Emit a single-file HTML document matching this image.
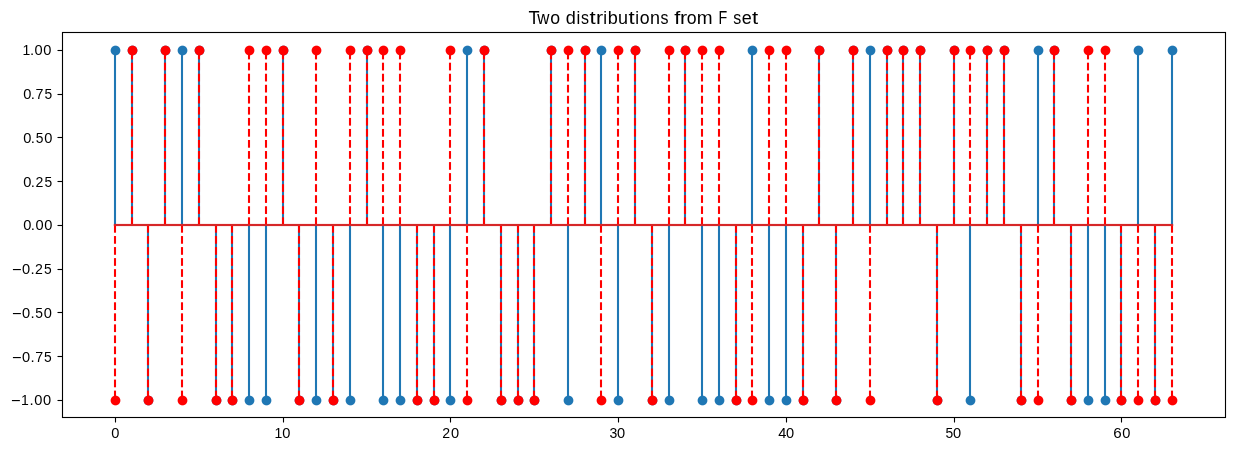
<!DOCTYPE html>
<html><head><meta charset="utf-8"><title>Two distributions from F set</title>
<style>html,body{margin:0;padding:0;background:#fff}body{width:1234px;height:451px;overflow:hidden}svg{display:block}text{font-family:"Liberation Sans",sans-serif;fill:#000}.t{font-size:14.2px}.h{font-size:17.63px}</style></head><body>
<svg style="will-change:transform" width="1234" height="451" viewBox="0 0 1234 451">
<rect x="0" y="0" width="1234" height="451" fill="#ffffff"/>
<defs><g id="m"><rect x="3" y="0" width="1" height="1" fill-opacity=".013"/><rect x="4" y="0" width="1" height="1" fill-opacity=".254"/><rect x="5" y="0" width="1" height="1" fill-opacity=".353"/><rect x="6" y="0" width="1" height="1" fill-opacity=".254"/><rect x="7" y="0" width="1" height="1" fill-opacity=".013"/><rect x="2" y="1" width="1" height="1" fill-opacity=".321"/><rect x="3" y="1" width="1" height="1" fill-opacity=".888"/><rect x="4" y="1" width="3" height="1"/><rect x="7" y="1" width="1" height="1" fill-opacity=".888"/><rect x="8" y="1" width="1" height="1" fill-opacity=".321"/><rect x="1" y="2" width="1" height="1" fill-opacity=".321"/><rect x="2" y="2" width="7" height="1"/><rect x="9" y="2" width="1" height="1" fill-opacity=".321"/><rect x="0" y="3" width="1" height="1" fill-opacity=".013"/><rect x="1" y="3" width="1" height="1" fill-opacity=".888"/><rect x="2" y="3" width="7" height="1"/><rect x="9" y="3" width="1" height="1" fill-opacity=".888"/><rect x="10" y="3" width="1" height="1" fill-opacity=".013"/><rect x="0" y="4" width="1" height="1" fill-opacity=".254"/><rect x="1" y="4" width="9" height="1"/><rect x="10" y="4" width="1" height="1" fill-opacity=".254"/><rect x="0" y="5" width="1" height="1" fill-opacity=".353"/><rect x="1" y="5" width="9" height="1"/><rect x="10" y="5" width="1" height="1" fill-opacity=".353"/><rect x="0" y="6" width="1" height="1" fill-opacity=".254"/><rect x="1" y="6" width="9" height="1"/><rect x="10" y="6" width="1" height="1" fill-opacity=".254"/><rect x="0" y="7" width="1" height="1" fill-opacity=".013"/><rect x="1" y="7" width="1" height="1" fill-opacity=".888"/><rect x="2" y="7" width="7" height="1"/><rect x="9" y="7" width="1" height="1" fill-opacity=".888"/><rect x="10" y="7" width="1" height="1" fill-opacity=".013"/><rect x="1" y="8" width="1" height="1" fill-opacity=".321"/><rect x="2" y="8" width="7" height="1"/><rect x="9" y="8" width="1" height="1" fill-opacity=".321"/><rect x="2" y="9" width="1" height="1" fill-opacity=".321"/><rect x="3" y="9" width="1" height="1" fill-opacity=".888"/><rect x="4" y="9" width="3" height="1"/><rect x="7" y="9" width="1" height="1" fill-opacity=".888"/><rect x="8" y="9" width="1" height="1" fill-opacity=".321"/><rect x="3" y="10" width="1" height="1" fill-opacity=".013"/><rect x="4" y="10" width="1" height="1" fill-opacity=".254"/><rect x="5" y="10" width="1" height="1" fill-opacity=".353"/><rect x="6" y="10" width="1" height="1" fill-opacity=".254"/><rect x="7" y="10" width="1" height="1" fill-opacity=".013"/></g></defs>
<text class="h" y="24.00"><tspan x="528.54" textLength="11.10" lengthAdjust="spacingAndGlyphs">T</tspan><tspan x="537.22" textLength="12.17" lengthAdjust="spacingAndGlyphs">w</tspan><tspan x="550.30" textLength="9.85" lengthAdjust="spacingAndGlyphs">o</tspan> <tspan x="565.66" textLength="10.07" lengthAdjust="spacingAndGlyphs">d</tspan><tspan x="576.43" textLength="3.79" lengthAdjust="spacingAndGlyphs">i</tspan><tspan x="581.08" textLength="7.99" lengthAdjust="spacingAndGlyphs">s</tspan><tspan x="589.49" textLength="6.19" lengthAdjust="spacingAndGlyphs">t</tspan><tspan x="595.97" textLength="7.11" lengthAdjust="spacingAndGlyphs">r</tspan><tspan x="603.18" textLength="3.79" lengthAdjust="spacingAndGlyphs">i</tspan><tspan x="607.72" textLength="10.08" lengthAdjust="spacingAndGlyphs">b</tspan><tspan x="618.12" textLength="9.99" lengthAdjust="spacingAndGlyphs">u</tspan><tspan x="628.49" textLength="6.19" lengthAdjust="spacingAndGlyphs">t</tspan><tspan x="635.31" textLength="3.79" lengthAdjust="spacingAndGlyphs">i</tspan><tspan x="639.68" textLength="9.85" lengthAdjust="spacingAndGlyphs">o</tspan><tspan x="649.95" textLength="9.99" lengthAdjust="spacingAndGlyphs">n</tspan><tspan x="660.58" textLength="7.99" lengthAdjust="spacingAndGlyphs">s</tspan> <tspan x="674.20" textLength="6.08" lengthAdjust="spacingAndGlyphs">f</tspan><tspan x="680.10" textLength="7.11" lengthAdjust="spacingAndGlyphs">r</tspan><tspan x="686.68" textLength="9.85" lengthAdjust="spacingAndGlyphs">o</tspan><tspan x="696.88" textLength="15.82" lengthAdjust="spacingAndGlyphs">m</tspan> <tspan x="718.59" textLength="8.73" lengthAdjust="spacingAndGlyphs">F</tspan> <tspan x="733.33" textLength="7.99" lengthAdjust="spacingAndGlyphs">s</tspan><tspan x="741.78" textLength="10.01" lengthAdjust="spacingAndGlyphs">e</tspan><tspan x="751.99" textLength="6.19" lengthAdjust="spacingAndGlyphs">t</tspan></text>
<g fill="#1f77b4">
<rect x="113.9583" y="50" width="2.0833" height="175"/>
<rect x="130.9583" y="50" width="2.0833" height="175"/>
<rect x="146.9583" y="225" width="2.0833" height="175"/>
<rect x="163.9583" y="50" width="2.0833" height="175"/>
<rect x="180.9583" y="50" width="2.0833" height="175"/>
<rect x="197.9583" y="50" width="2.0833" height="175"/>
<rect x="214.9583" y="225" width="2.0833" height="175"/>
<rect x="230.9583" y="225" width="2.0833" height="175"/>
<rect x="247.9583" y="225" width="2.0833" height="175"/>
<rect x="264.9583" y="225" width="2.0833" height="175"/>
<rect x="281.9583" y="50" width="2.0833" height="175"/>
<rect x="297.9583" y="225" width="2.0833" height="175"/>
<rect x="314.9583" y="225" width="2.0833" height="175"/>
<rect x="331.9583" y="225" width="2.0833" height="175"/>
<rect x="348.9583" y="225" width="2.0833" height="175"/>
<rect x="365.9583" y="50" width="2.0833" height="175"/>
<rect x="381.9583" y="225" width="2.0833" height="175"/>
<rect x="398.9583" y="225" width="2.0833" height="175"/>
<rect x="415.9583" y="225" width="2.0833" height="175"/>
<rect x="432.9583" y="225" width="2.0833" height="175"/>
<rect x="448.9583" y="225" width="2.0833" height="175"/>
<rect x="465.9583" y="50" width="2.0833" height="175"/>
<rect x="482.9583" y="50" width="2.0833" height="175"/>
<rect x="499.9583" y="225" width="2.0833" height="175"/>
<rect x="516.9583" y="225" width="2.0833" height="175"/>
<rect x="532.9583" y="225" width="2.0833" height="175"/>
<rect x="549.9583" y="50" width="2.0833" height="175"/>
<rect x="566.9583" y="225" width="2.0833" height="175"/>
<rect x="583.9583" y="50" width="2.0833" height="175"/>
<rect x="599.9583" y="50" width="2.0833" height="175"/>
<rect x="616.9583" y="225" width="2.0833" height="175"/>
<rect x="633.9583" y="50" width="2.0833" height="175"/>
<rect x="650.9583" y="225" width="2.0833" height="175"/>
<rect x="667.9583" y="225" width="2.0833" height="175"/>
<rect x="683.9583" y="50" width="2.0833" height="175"/>
<rect x="700.9583" y="225" width="2.0833" height="175"/>
<rect x="717.9583" y="225" width="2.0833" height="175"/>
<rect x="734.9583" y="225" width="2.0833" height="175"/>
<rect x="750.9583" y="50" width="2.0833" height="175"/>
<rect x="767.9583" y="225" width="2.0833" height="175"/>
<rect x="784.9583" y="225" width="2.0833" height="175"/>
<rect x="801.9583" y="225" width="2.0833" height="175"/>
<rect x="817.9583" y="50" width="2.0833" height="175"/>
<rect x="834.9583" y="225" width="2.0833" height="175"/>
<rect x="851.9583" y="50" width="2.0833" height="175"/>
<rect x="868.9583" y="50" width="2.0833" height="175"/>
<rect x="885.9583" y="50" width="2.0833" height="175"/>
<rect x="901.9583" y="50" width="2.0833" height="175"/>
<rect x="918.9583" y="50" width="2.0833" height="175"/>
<rect x="935.9583" y="225" width="2.0833" height="175"/>
<rect x="952.9583" y="50" width="2.0833" height="175"/>
<rect x="968.9583" y="225" width="2.0833" height="175"/>
<rect x="985.9583" y="50" width="2.0833" height="175"/>
<rect x="1002.9583" y="50" width="2.0833" height="175"/>
<rect x="1019.9583" y="225" width="2.0833" height="175"/>
<rect x="1036.9584" y="50" width="2.0833" height="175"/>
<rect x="1052.9584" y="50" width="2.0833" height="175"/>
<rect x="1069.9584" y="225" width="2.0833" height="175"/>
<rect x="1086.9584" y="225" width="2.0833" height="175"/>
<rect x="1103.9584" y="225" width="2.0833" height="175"/>
<rect x="1119.9584" y="225" width="2.0833" height="175"/>
<rect x="1136.9584" y="50" width="2.0833" height="175"/>
<rect x="1153.9584" y="225" width="2.0833" height="175"/>
<rect x="1170.9584" y="50" width="2.0833" height="175"/>
</g>
<g fill="#1f77b4">
<use href="#m" x="110" y="45"/>
<use href="#m" x="127" y="45"/>
<use href="#m" x="143" y="395"/>
<use href="#m" x="160" y="45"/>
<use href="#m" x="177" y="45"/>
<use href="#m" x="194" y="45"/>
<use href="#m" x="211" y="395"/>
<use href="#m" x="227" y="395"/>
<use href="#m" x="244" y="395"/>
<use href="#m" x="261" y="395"/>
<use href="#m" x="278" y="45"/>
<use href="#m" x="294" y="395"/>
<use href="#m" x="311" y="395"/>
<use href="#m" x="328" y="395"/>
<use href="#m" x="345" y="395"/>
<use href="#m" x="362" y="45"/>
<use href="#m" x="378" y="395"/>
<use href="#m" x="395" y="395"/>
<use href="#m" x="412" y="395"/>
<use href="#m" x="429" y="395"/>
<use href="#m" x="445" y="395"/>
<use href="#m" x="462" y="45"/>
<use href="#m" x="479" y="45"/>
<use href="#m" x="496" y="395"/>
<use href="#m" x="513" y="395"/>
<use href="#m" x="529" y="395"/>
<use href="#m" x="546" y="45"/>
<use href="#m" x="563" y="395"/>
<use href="#m" x="580" y="45"/>
<use href="#m" x="596" y="45"/>
<use href="#m" x="613" y="395"/>
<use href="#m" x="630" y="45"/>
<use href="#m" x="647" y="395"/>
<use href="#m" x="664" y="395"/>
<use href="#m" x="680" y="45"/>
<use href="#m" x="697" y="395"/>
<use href="#m" x="714" y="395"/>
<use href="#m" x="731" y="395"/>
<use href="#m" x="747" y="45"/>
<use href="#m" x="764" y="395"/>
<use href="#m" x="781" y="395"/>
<use href="#m" x="798" y="395"/>
<use href="#m" x="814" y="45"/>
<use href="#m" x="831" y="395"/>
<use href="#m" x="848" y="45"/>
<use href="#m" x="865" y="45"/>
<use href="#m" x="882" y="45"/>
<use href="#m" x="898" y="45"/>
<use href="#m" x="915" y="45"/>
<use href="#m" x="932" y="395"/>
<use href="#m" x="949" y="45"/>
<use href="#m" x="965" y="395"/>
<use href="#m" x="982" y="45"/>
<use href="#m" x="999" y="45"/>
<use href="#m" x="1016" y="395"/>
<use href="#m" x="1033" y="45"/>
<use href="#m" x="1049" y="45"/>
<use href="#m" x="1066" y="395"/>
<use href="#m" x="1083" y="395"/>
<use href="#m" x="1100" y="395"/>
<use href="#m" x="1116" y="395"/>
<use href="#m" x="1133" y="45"/>
<use href="#m" x="1150" y="395"/>
<use href="#m" x="1167" y="45"/>
</g>
<rect x="113.9" y="223.96" width="1059.2" height="2.08" fill="#d62728"/>
<defs><g id="u" fill="#ff0000"><rect x="-1.04165" y="217.2917" width="2.0833" height="7.7083"/><rect x="-1.04165" y="206.2500" width="2.0833" height="7.7083"/><rect x="-1.04165" y="195.2083" width="2.0833" height="7.7083"/><rect x="-1.04165" y="184.1667" width="2.0833" height="7.7083"/><rect x="-1.04165" y="173.1250" width="2.0833" height="7.7083"/><rect x="-1.04165" y="162.0833" width="2.0833" height="7.7083"/><rect x="-1.04165" y="151.0417" width="2.0833" height="7.7083"/><rect x="-1.04165" y="140.0000" width="2.0833" height="7.7083"/><rect x="-1.04165" y="128.9583" width="2.0833" height="7.7083"/><rect x="-1.04165" y="117.9167" width="2.0833" height="7.7083"/><rect x="-1.04165" y="106.8750" width="2.0833" height="7.7083"/><rect x="-1.04165" y="95.8333" width="2.0833" height="7.7083"/><rect x="-1.04165" y="84.7917" width="2.0833" height="7.7083"/><rect x="-1.04165" y="73.7500" width="2.0833" height="7.7083"/><rect x="-1.04165" y="62.7083" width="2.0833" height="7.7083"/><rect x="-1.04165" y="51.6667" width="2.0833" height="7.7083"/></g>
<g id="d" fill="#ff0000"><rect x="-1.04165" y="225.0000" width="2.0833" height="7.7083"/><rect x="-1.04165" y="236.0417" width="2.0833" height="7.7083"/><rect x="-1.04165" y="247.0833" width="2.0833" height="7.7083"/><rect x="-1.04165" y="258.1250" width="2.0833" height="7.7083"/><rect x="-1.04165" y="269.1667" width="2.0833" height="7.7083"/><rect x="-1.04165" y="280.2083" width="2.0833" height="7.7083"/><rect x="-1.04165" y="291.2500" width="2.0833" height="7.7083"/><rect x="-1.04165" y="302.2917" width="2.0833" height="7.7083"/><rect x="-1.04165" y="313.3333" width="2.0833" height="7.7083"/><rect x="-1.04165" y="324.3750" width="2.0833" height="7.7083"/><rect x="-1.04165" y="335.4167" width="2.0833" height="7.7083"/><rect x="-1.04165" y="346.4583" width="2.0833" height="7.7083"/><rect x="-1.04165" y="357.5000" width="2.0833" height="7.7083"/><rect x="-1.04165" y="368.5417" width="2.0833" height="7.7083"/><rect x="-1.04165" y="379.5833" width="2.0833" height="7.7083"/><rect x="-1.04165" y="390.6250" width="2.0833" height="7.7083"/></g></defs>
<use href="#d" x="115"/>
<use href="#u" x="132"/>
<use href="#d" x="148"/>
<use href="#u" x="165"/>
<use href="#d" x="182"/>
<use href="#u" x="199"/>
<use href="#d" x="216"/>
<use href="#d" x="232"/>
<use href="#u" x="249"/>
<use href="#u" x="266"/>
<use href="#u" x="283"/>
<use href="#d" x="299"/>
<use href="#u" x="316"/>
<use href="#d" x="333"/>
<use href="#u" x="350"/>
<use href="#u" x="367"/>
<use href="#u" x="383"/>
<use href="#u" x="400"/>
<use href="#d" x="417"/>
<use href="#d" x="434"/>
<use href="#u" x="450"/>
<use href="#d" x="467"/>
<use href="#u" x="484"/>
<use href="#d" x="501"/>
<use href="#d" x="518"/>
<use href="#d" x="534"/>
<use href="#u" x="551"/>
<use href="#u" x="568"/>
<use href="#u" x="585"/>
<use href="#d" x="601"/>
<use href="#u" x="618"/>
<use href="#u" x="635"/>
<use href="#d" x="652"/>
<use href="#u" x="669"/>
<use href="#u" x="685"/>
<use href="#u" x="702"/>
<use href="#u" x="719"/>
<use href="#d" x="736"/>
<use href="#d" x="752"/>
<use href="#u" x="769"/>
<use href="#u" x="786"/>
<use href="#d" x="803"/>
<use href="#u" x="819"/>
<use href="#d" x="836"/>
<use href="#u" x="853"/>
<use href="#d" x="870"/>
<use href="#u" x="887"/>
<use href="#u" x="903"/>
<use href="#u" x="920"/>
<use href="#d" x="937"/>
<use href="#u" x="954"/>
<use href="#u" x="970"/>
<use href="#u" x="987"/>
<use href="#u" x="1004"/>
<use href="#d" x="1021"/>
<use href="#d" x="1038"/>
<use href="#u" x="1054"/>
<use href="#d" x="1071"/>
<use href="#u" x="1088"/>
<use href="#u" x="1105"/>
<use href="#d" x="1121"/>
<use href="#d" x="1138"/>
<use href="#d" x="1155"/>
<use href="#d" x="1172"/>
<g fill="#ff0000">
<use href="#m" x="110" y="395"/>
<use href="#m" x="127" y="45"/>
<use href="#m" x="143" y="395"/>
<use href="#m" x="160" y="45"/>
<use href="#m" x="177" y="395"/>
<use href="#m" x="194" y="45"/>
<use href="#m" x="211" y="395"/>
<use href="#m" x="227" y="395"/>
<use href="#m" x="244" y="45"/>
<use href="#m" x="261" y="45"/>
<use href="#m" x="278" y="45"/>
<use href="#m" x="294" y="395"/>
<use href="#m" x="311" y="45"/>
<use href="#m" x="328" y="395"/>
<use href="#m" x="345" y="45"/>
<use href="#m" x="362" y="45"/>
<use href="#m" x="378" y="45"/>
<use href="#m" x="395" y="45"/>
<use href="#m" x="412" y="395"/>
<use href="#m" x="429" y="395"/>
<use href="#m" x="445" y="45"/>
<use href="#m" x="462" y="395"/>
<use href="#m" x="479" y="45"/>
<use href="#m" x="496" y="395"/>
<use href="#m" x="513" y="395"/>
<use href="#m" x="529" y="395"/>
<use href="#m" x="546" y="45"/>
<use href="#m" x="563" y="45"/>
<use href="#m" x="580" y="45"/>
<use href="#m" x="596" y="395"/>
<use href="#m" x="613" y="45"/>
<use href="#m" x="630" y="45"/>
<use href="#m" x="647" y="395"/>
<use href="#m" x="664" y="45"/>
<use href="#m" x="680" y="45"/>
<use href="#m" x="697" y="45"/>
<use href="#m" x="714" y="45"/>
<use href="#m" x="731" y="395"/>
<use href="#m" x="747" y="395"/>
<use href="#m" x="764" y="45"/>
<use href="#m" x="781" y="45"/>
<use href="#m" x="798" y="395"/>
<use href="#m" x="814" y="45"/>
<use href="#m" x="831" y="395"/>
<use href="#m" x="848" y="45"/>
<use href="#m" x="865" y="395"/>
<use href="#m" x="882" y="45"/>
<use href="#m" x="898" y="45"/>
<use href="#m" x="915" y="45"/>
<use href="#m" x="932" y="395"/>
<use href="#m" x="949" y="45"/>
<use href="#m" x="965" y="45"/>
<use href="#m" x="982" y="45"/>
<use href="#m" x="999" y="45"/>
<use href="#m" x="1016" y="395"/>
<use href="#m" x="1033" y="395"/>
<use href="#m" x="1049" y="45"/>
<use href="#m" x="1066" y="395"/>
<use href="#m" x="1083" y="45"/>
<use href="#m" x="1100" y="45"/>
<use href="#m" x="1116" y="395"/>
<use href="#m" x="1133" y="395"/>
<use href="#m" x="1150" y="395"/>
<use href="#m" x="1167" y="395"/>
</g>
<rect x="113.9" y="223.96" width="1059.2" height="2.08" fill="#d62728"/>
<rect x="62.5" y="32.5" width="1163" height="385" fill="none" stroke="#000" stroke-width="1.111"/>
<g stroke="#000" stroke-width="1.111">
<line x1="57.5" y1="50.5" x2="62.5" y2="50.5"/>
<line x1="57.5" y1="94.5" x2="62.5" y2="94.5"/>
<line x1="57.5" y1="137.5" x2="62.5" y2="137.5"/>
<line x1="57.5" y1="181.5" x2="62.5" y2="181.5"/>
<line x1="57.5" y1="225.5" x2="62.5" y2="225.5"/>
<line x1="57.5" y1="269.5" x2="62.5" y2="269.5"/>
<line x1="57.5" y1="312.5" x2="62.5" y2="312.5"/>
<line x1="57.5" y1="356.5" x2="62.5" y2="356.5"/>
<line x1="57.5" y1="400.5" x2="62.5" y2="400.5"/>
<line x1="115.5" y1="417.5" x2="115.5" y2="422.5"/>
<line x1="283.5" y1="417.5" x2="283.5" y2="422.5"/>
<line x1="450.5" y1="417.5" x2="450.5" y2="422.5"/>
<line x1="618.5" y1="417.5" x2="618.5" y2="422.5"/>
<line x1="786.5" y1="417.5" x2="786.5" y2="422.5"/>
<line x1="954.5" y1="417.5" x2="954.5" y2="422.5"/>
<line x1="1121.5" y1="417.5" x2="1121.5" y2="422.5"/>
</g>
<text class="t" y="54.50"><tspan x="22.46" textLength="7.78" lengthAdjust="spacingAndGlyphs">1</tspan><tspan x="29.99" textLength="4.18" lengthAdjust="spacingAndGlyphs">.</tspan><tspan x="34.59" textLength="8.14" lengthAdjust="spacingAndGlyphs">0</tspan><tspan x="43.34" textLength="8.14" lengthAdjust="spacingAndGlyphs">0</tspan></text>
<text class="t" y="98.50"><tspan x="23.34" textLength="8.14" lengthAdjust="spacingAndGlyphs">0</tspan><tspan x="30.86" textLength="4.18" lengthAdjust="spacingAndGlyphs">.</tspan><tspan x="35.53" textLength="7.96" lengthAdjust="spacingAndGlyphs">7</tspan><tspan x="44.39" textLength="7.68" lengthAdjust="spacingAndGlyphs">5</tspan></text>
<text class="t" y="142.50"><tspan x="23.34" textLength="8.14" lengthAdjust="spacingAndGlyphs">0</tspan><tspan x="30.86" textLength="4.18" lengthAdjust="spacingAndGlyphs">.</tspan><tspan x="35.64" textLength="7.68" lengthAdjust="spacingAndGlyphs">5</tspan><tspan x="44.22" textLength="8.14" lengthAdjust="spacingAndGlyphs">0</tspan></text>
<text class="t" y="186.50"><tspan x="23.34" textLength="8.14" lengthAdjust="spacingAndGlyphs">0</tspan><tspan x="30.86" textLength="4.18" lengthAdjust="spacingAndGlyphs">.</tspan><tspan x="35.43" textLength="7.85" lengthAdjust="spacingAndGlyphs">2</tspan><tspan x="44.39" textLength="7.68" lengthAdjust="spacingAndGlyphs">5</tspan></text>
<text class="t" y="229.50"><tspan x="23.34" textLength="8.14" lengthAdjust="spacingAndGlyphs">0</tspan><tspan x="30.86" textLength="4.18" lengthAdjust="spacingAndGlyphs">.</tspan><tspan x="35.47" textLength="8.14" lengthAdjust="spacingAndGlyphs">0</tspan><tspan x="44.22" textLength="8.14" lengthAdjust="spacingAndGlyphs">0</tspan></text>
<text class="t" y="273.50"><tspan x="12.03" dy="1.6" style="font-size:16.4px" textLength="9.58" lengthAdjust="spacingAndGlyphs">−</tspan><tspan x="21.97" dy="-1.6" textLength="8.14" lengthAdjust="spacingAndGlyphs">0</tspan><tspan x="30.49" textLength="4.18" lengthAdjust="spacingAndGlyphs">.</tspan><tspan x="35.06" textLength="7.85" lengthAdjust="spacingAndGlyphs">2</tspan><tspan x="44.02" textLength="7.68" lengthAdjust="spacingAndGlyphs">5</tspan></text>
<text class="t" y="317.50"><tspan x="12.03" dy="1.6" style="font-size:16.4px" textLength="9.58" lengthAdjust="spacingAndGlyphs">−</tspan><tspan x="21.97" dy="-1.6" textLength="8.14" lengthAdjust="spacingAndGlyphs">0</tspan><tspan x="30.49" textLength="4.18" lengthAdjust="spacingAndGlyphs">.</tspan><tspan x="35.27" textLength="7.68" lengthAdjust="spacingAndGlyphs">5</tspan><tspan x="43.84" textLength="8.14" lengthAdjust="spacingAndGlyphs">0</tspan></text>
<text class="t" y="361.50"><tspan x="12.03" dy="1.6" style="font-size:16.4px" textLength="9.58" lengthAdjust="spacingAndGlyphs">−</tspan><tspan x="21.97" dy="-1.6" textLength="8.14" lengthAdjust="spacingAndGlyphs">0</tspan><tspan x="30.49" textLength="4.18" lengthAdjust="spacingAndGlyphs">.</tspan><tspan x="35.16" textLength="7.96" lengthAdjust="spacingAndGlyphs">7</tspan><tspan x="44.02" textLength="7.68" lengthAdjust="spacingAndGlyphs">5</tspan></text>
<text class="t" y="404.50"><tspan x="11.03" dy="1.6" style="font-size:16.4px" textLength="9.58" lengthAdjust="spacingAndGlyphs">−</tspan><tspan x="21.09" dy="-1.6" textLength="7.78" lengthAdjust="spacingAndGlyphs">1</tspan><tspan x="29.61" textLength="4.18" lengthAdjust="spacingAndGlyphs">.</tspan><tspan x="34.22" textLength="8.14" lengthAdjust="spacingAndGlyphs">0</tspan><tspan x="42.97" textLength="8.14" lengthAdjust="spacingAndGlyphs">0</tspan></text>
<text class="t" y="438.00"><tspan x="111.34" textLength="8.14" lengthAdjust="spacingAndGlyphs">0</tspan></text>
<text class="t" y="438.00"><tspan x="274.46" textLength="7.78" lengthAdjust="spacingAndGlyphs">1</tspan><tspan x="282.22" textLength="8.14" lengthAdjust="spacingAndGlyphs">0</tspan></text>
<text class="t" y="438.00"><tspan x="442.31" textLength="7.85" lengthAdjust="spacingAndGlyphs">2</tspan><tspan x="451.09" textLength="8.14" lengthAdjust="spacingAndGlyphs">0</tspan></text>
<text class="t" y="438.00"><tspan x="609.52" textLength="7.82" lengthAdjust="spacingAndGlyphs">3</tspan><tspan x="617.09" textLength="8.14" lengthAdjust="spacingAndGlyphs">0</tspan></text>
<text class="t" y="438.00"><tspan x="778.34" textLength="8.14" lengthAdjust="spacingAndGlyphs">4</tspan><tspan x="786.09" textLength="8.14" lengthAdjust="spacingAndGlyphs">0</tspan></text>
<text class="t" y="438.00"><tspan x="945.52" textLength="7.68" lengthAdjust="spacingAndGlyphs">5</tspan><tspan x="953.09" textLength="8.14" lengthAdjust="spacingAndGlyphs">0</tspan></text>
<text class="t" y="438.00"><tspan x="1113.20" textLength="8.43" lengthAdjust="spacingAndGlyphs">6</tspan><tspan x="1122.22" textLength="8.14" lengthAdjust="spacingAndGlyphs">0</tspan></text>
</svg></body></html>
